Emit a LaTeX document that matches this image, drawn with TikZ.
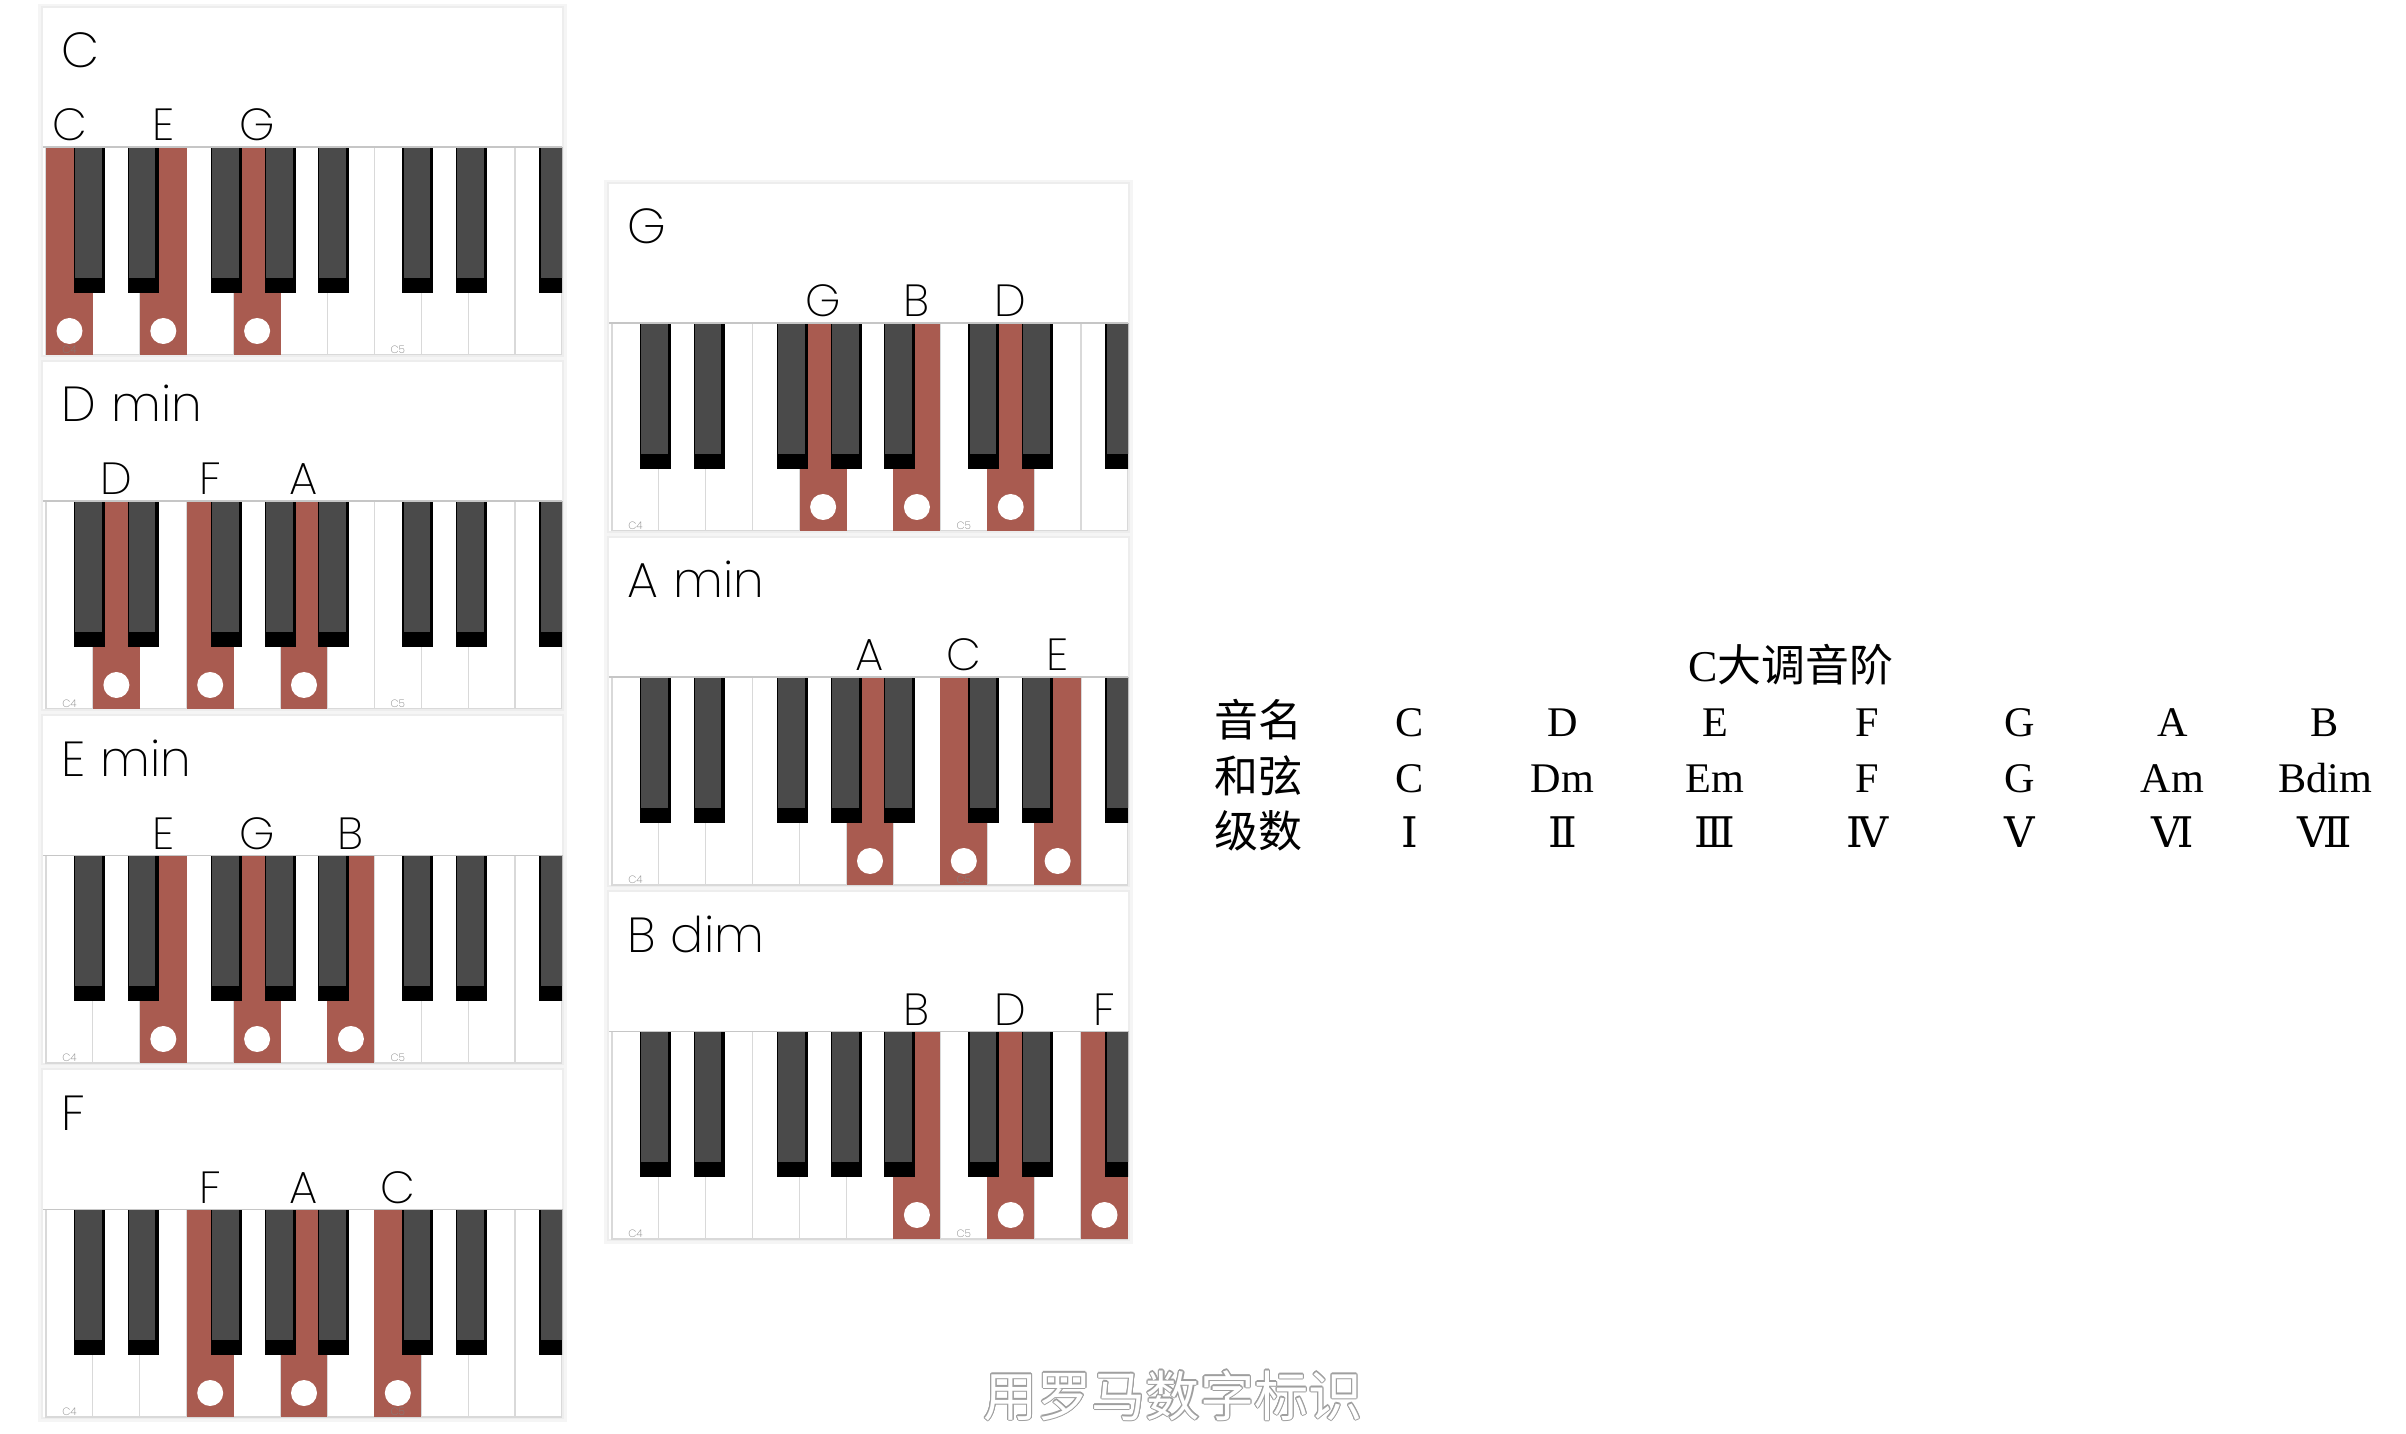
\documentclass[tikz,border=0pt]{standalone}
\usepackage{fontspec}
\setmainfont{Liberation Serif}
\newfontfamily\keyfont{Poppins ExtraLight}
\newfontfamily\cjkfont{Noto Sans CJK SC}
\newfontfamily\romanfont{DejaVu Serif}
\definecolor{keyred}{HTML}{A95B50}
\definecolor{keygray}{HTML}{4A4A4A}
\begin{document}
\begin{tikzpicture}[x=0.01cm,y=-0.01cm,
    whitekey/.style={draw=gray!30,fill=white,line width=0.3pt},
    chordname/.style={anchor=base west,inner sep=0pt,font=\keyfont\fontsize{14}{17}\selectfont},
    notename/.style={anchor=base,inner sep=0pt,font=\keyfont\fontsize{12.8}{15}\selectfont},
    octave/.style={font=\keyfont\fontsize{3}{3}\selectfont,text=gray},
    tabtext/.style={anchor=base,font=\fontsize{12}{14}\selectfont},
    cjktext/.style={anchor=base,font=\cjkfont\fontsize{12.5}{14}\selectfont}]
\useasboundingbox (0,0) rectangle (2406,1434);
\fill[white] (0,0) rectangle (2406,1434);
\foreach \r/\cx/\cy/\title/\na/\nb/\nc in {0/43/8/C/C/E/G,
    1/43/362/{D\hspace{.3em}min}/D/F/A, 2/43/716/{E\hspace{.3em}min}/E/G/B,
    3/43/1070/F/F/A/C, 4/609/184/G/G/B/D,
    5/609/538/{A\hspace{.3em}min}/A/C/E, 6/609/892/{B\hspace{.3em}dim}/B/D/F}
{
  \begin{scope}[shift={(\cx,\cy)}]
    \fill[black!4] (-5,-4) rectangle (524,352);
    \fill[black!7] (-2,-2) rectangle (521,349);
    \fill[white] (0,0) rectangle (519,347);
    \node[chordname] (title\r) at (18,60) {\title};
    \begin{scope}
      \clip (0,139) rectangle (519,347);
      \foreach \k in {0,...,10}
        \draw[whitekey] (3+\k*46.9,139) rectangle ++(46.9,208);
      \foreach \n in {0,1,2}
        \fill[keyred] (3+\r*46.9+\n*93.8,139) rectangle ++(46.9,208);
      \foreach \b in {0.6,1.74,3.52,4.67,5.8,7.6,8.74,10.52} {
        \fill[black] (3+\b*46.9,139) rectangle ++(31,146);
        \fill[keygray] (4.3+\b*46.9,139) rectangle ++(26.5,131);
      }
      \draw[gray!45] (0,139) -- (519,139);
    \end{scope}
    \node[octave] (cfour\r) at (26.5,342) {C4};
    \node[octave] (cfive\r) at (354.8,342) {C5};
    \foreach \n/\lab in {0/\na,1/\nb,2/\nc} {
      \node[notename] (note\r\n) at (26.5+\r*46.9+\n*93.8,133) {\lab};
      \fill[white] (26.5+\r*46.9+\n*93.8,323) circle (13);
    }
  \end{scope}
}
\node[anchor=base,font=\fontsize{12.5}{14}\selectfont] (scaletitle) at (1791,682) {C{\cjkfont 大调音阶}};
\node[cjktext] (rowname) at (1258,737) {音名};
\node[cjktext] (rowchord) at (1258,792) {和弦};
\node[cjktext] (rowdegree) at (1258,847) {级数};
\foreach \i/\nm/\ch/\dg in {0/C/C/Ⅰ,1/D/Dm/Ⅱ,2/E/Em/Ⅲ,3/F/F/Ⅳ,4/G/G/Ⅴ,5/A/Am/Ⅵ,6/B/Bdim/Ⅶ} {
  \node[tabtext] (name\i) at (1410+152.5*\i,737) {\nm};
  \node[tabtext] (chord\i) at (1410+152.5*\i,792) {\ch};
  \node[tabtext] (degree\i) at (1410+152.5*\i,847) {\romanfont\dg};
}
\foreach \a [count=\j] in {0,30,...,330}
  \node[anchor=base,font=\cjkfont\fontsize{15.4}{18}\selectfont,text=gray!75,shift={(\a:1.1)}] (capedge\j) at (1173,1416) {用罗马数字标识};
\node[anchor=base,font=\cjkfont\fontsize{15.4}{18}\selectfont,text=white] (caption) at (1173,1416) {用罗马数字标识};
\end{tikzpicture}
\end{document}
